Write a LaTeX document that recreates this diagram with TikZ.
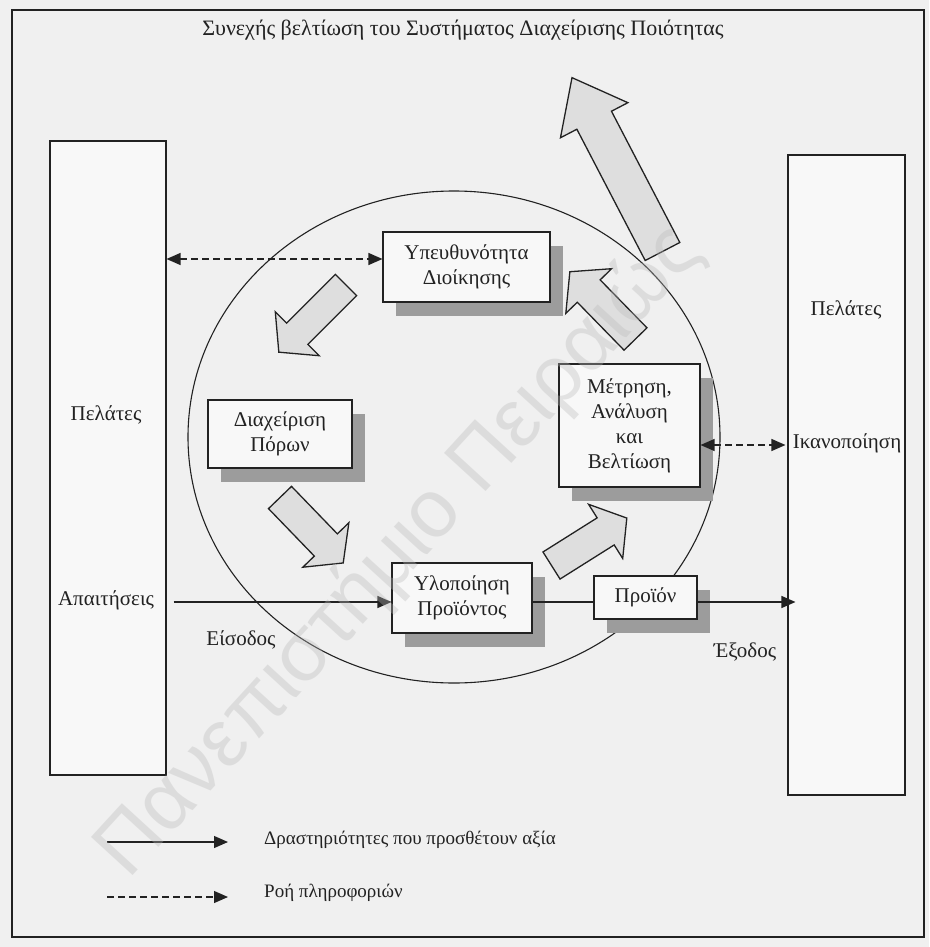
\documentclass[tikz,border=0pt]{standalone}
\usepackage{fontspec}
\setmainfont{Liberation Serif}
\newfontfamily\markfont{Liberation Sans}
\usetikzlibrary{arrows.meta,shadows}

\definecolor{paper}{HTML}{F0F0F0}
\definecolor{boxfill}{HTML}{F8F8F8}
\definecolor{arrowfill}{HTML}{DEDEDE}
\definecolor{shadowgray}{HTML}{9C9C9C}
\definecolor{ink}{HTML}{222222}

% hollow block arrow: base point, direction angle, length, shaft width, head width, head length
\newcommand{\fatarrow}[6]{%
  \draw[blockarrow, shift={#1}, rotate=#2]
    (0,#4/2) -- (#3-#6,#4/2) -- (#3-#6,#5/2) -- (#3,0) --
    (#3-#6,-#5/2) -- (#3-#6,-#4/2) -- (0,-#4/2) -- cycle;}

\begin{document}
\begin{tikzpicture}[x=1pt,y=-1pt,
  txt/.style={font=\fontsize{21}{25}\selectfont, inner sep=0pt, text=ink},
  box/.style={draw=ink, line width=1.1pt, fill=boxfill, align=center,
    font=\fontsize{21}{25}\selectfont, text=ink, inner sep=0pt,
    drop shadow={shadow xshift=13pt, shadow yshift=-14pt, fill=shadowgray, opacity=1}},
  column/.style={draw=ink, line width=1.1pt, fill=boxfill, inner sep=0pt},
  flow/.style={draw=ink, line width=1.2pt},
  info/.style={draw=ink, line width=1.2pt, dash pattern=on 7pt off 4pt},
  tip/.style={-{Triangle[length=14pt,width=12pt]}},
  tips/.style={{Triangle[length=14pt,width=12pt]}-{Triangle[length=14pt,width=12pt]}},
  legendtxt/.style={txt, anchor=west, font=\fontsize{19}{23}\selectfont},
  blockarrow/.style={draw=ink, line width=1.3pt, fill=arrowfill, line join=miter}]

% page and outer frame
\fill[paper] (0,0) rectangle (929,947);
\draw[ink, line width=1.2pt] (12,10) rectangle (924,937);

\node[txt, font=\fontsize{22}{26}\selectfont] (title) at (463,30) {Συνεχής βελτίωση του Συστήματος Διαχείρισης Ποιότητας};

% customers on both sides
\node[column, minimum width=116pt, minimum height=634pt] (custL) at (108,458) {};
\node[column, minimum width=117pt, minimum height=640pt] (custR) at (846.5,475) {};
\node[txt] (custLt) at (106,415) {Πελάτες};
\node[txt] (req) at (106,600) {Απαιτήσεις};
\node[txt] (custRt) at (846,310) {Πελάτες};
\node[txt] (sat) at (847,443) {Ικανοποίηση};

% the process cycle
\draw[ink, line width=1.1pt] (454,437) ellipse [x radius=266, y radius=246];

\node[box, minimum width=167pt, minimum height=70pt] (resp) at (466.5,267) {Υπευθυνότητα\\Διοίκησης};
\node[box, minimum width=144pt, minimum height=68pt] (res) at (280,434) {Διαχείριση\\Πόρων};
\node[box, minimum width=141pt, minimum height=123pt] (meas) at (629.5,425.5) {Μέτρηση,\\Ανάλυση\\και\\Βελτίωση};
\node[box, minimum width=140pt, minimum height=70pt] (real) at (462,598) {Υλοποίηση\\Προϊόντος};
\node[box, minimum width=103pt, minimum height=43pt] (prod) at (645.5,597.5) {Προϊόν};

\node[txt] (inp) at (241,640) {Είσοδος};
\node[txt] (outp) at (745,652) {Έξοδος};

% block arrows of the cycle
\fatarrow{(662.5,251.5)}{117.5}{196}{39}{76}{48}
\fatarrow{(635.5,339)}{134.3}{94}{32}{64}{27}
\fatarrow{(346,285)}{225}{95}{30}{62}{26}
\fatarrow{(280,497.5)}{-46}{91}{32}{64}{25}
\fatarrow{(551.5,565.5)}{32.2}{89}{32}{64}{25}

% information flows
\coordinate (i1) at ([yshift=8pt]resp.west);
\draw[info, tips] (custL.east |- i1) -- (i1);
\coordinate (i2) at ([yshift=-19.5pt]meas.east);
\draw[info, tips] (i2) -- ([xshift=-2pt]custR.west |- i2);

% value-adding flow
\coordinate (f0) at ([xshift=7pt]custL.east |- 0,602);
\draw[flow, tip] (f0) -- (real.west |- f0);
\draw[flow] (real.east |- f0) -- (prod.west |- f0);
\draw[flow, tip] (prod.east |- f0) -- ([xshift=8pt]custR.west |- f0);

% legend
\coordinate (la) at (107,842);
\coordinate (lb) at (228,842);
\coordinate (lc) at (107,897);
\coordinate (ld) at (228,897);
\draw[flow, tip] (la) -- (lb);
\draw[info, tip] (lc) -- (ld);
\node[legendtxt] (lt1) at (264,840) {Δραστηριότητες που προσθέτουν αξία};
\node[legendtxt] (lt2) at (264,893) {Ροή πληροφοριών};

% repository watermark
\node[font=\markfont\fontsize{82}{82}\selectfont, text=gray!55, opacity=0.35, rotate=47.5, inner sep=0pt] (mark) at (400,552) {Πανεπιστήμιο Πειραιώς};
\end{tikzpicture}
\end{document}
